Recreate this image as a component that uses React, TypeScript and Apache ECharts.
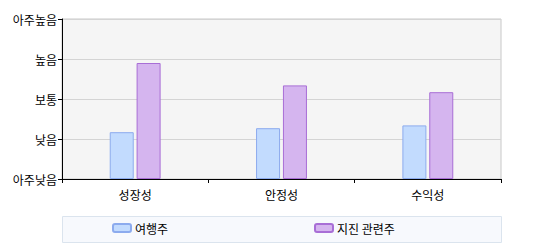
import React, { useEffect, useRef } from "react";
import * as echarts from "echarts";

const categories = ["성장성", "안정성", "수익성"];
const levelLabels = ["아주낮음", "낮음", "보통", "높음", "아주높음"];
const travelValues = [1.17, 1.27, 1.34];
const quakeValues = [2.9, 2.34, 2.17];
const seriesNames = ["여행주", "지진 관련주"];

const FONT = "'Noto Sans CJK KR', 'DejaVu Sans', sans-serif";

export default function App() {
  const ref = useRef<HTMLDivElement>(null);
  useEffect(() => {
    if (!ref.current) return;
    const chart = echarts.init(ref.current, null, { renderer: "svg" });
    chart.setOption({
      animation: false,
      textStyle: { fontFamily: FONT },
      grid: {
        left: 62,
        right: 43,
        top: 19,
        bottom: 71,
        show: true,
        backgroundColor: "#f5f5f5",
        borderColor: "#c8c8c8",
        borderWidth: 1,
      },
      graphic: [
        {
          type: "rect",
          left: 62,
          top: 216,
          shape: { width: 439, height: 26 },
          style: { fill: "#f7f9fd", stroke: "#dbe4ee", lineWidth: 1 },
          z: -1,
        },
      ],
      legend: [
        {
          left: 112,
          top: 222,
          padding: 0,
          itemWidth: 18,
          itemHeight: 8,
          itemGap: 4,
          data: [seriesNames[0]],
          textStyle: { fontSize: 12, color: "#000", fontFamily: FONT, padding: [0, 0, 0, -1] },
        },
        {
          left: 314,
          top: 222,
          padding: 0,
          itemWidth: 18,
          itemHeight: 8,
          itemGap: 4,
          data: [seriesNames[1]],
          textStyle: { fontSize: 12, color: "#000", fontFamily: FONT, padding: [0, 0, 0, -1] },
        },
      ],
      xAxis: {
        type: "category",
        data: categories,
        axisLine: { show: true, lineStyle: { color: "#000", width: 1 } },
        axisTick: { show: true, length: 4, lineStyle: { color: "#000" } },
        axisLabel: { color: "#000", fontSize: 12, margin: 9, fontFamily: FONT },
        splitLine: { show: false },
      },
      yAxis: {
        type: "value",
        min: 0,
        max: 4,
        interval: 1,
        axisLine: { show: true, lineStyle: { color: "#000", width: 1 } },
        axisTick: { show: true, length: 4, lineStyle: { color: "#000" } },
        axisLabel: {
          color: "#000",
          fontSize: 12,
          margin: 5,
          fontFamily: FONT,
          formatter: (v: number) => levelLabels[Math.round(v)] ?? "",
        },
        splitLine: { show: true, lineStyle: { color: "#d4d4d4", width: 1 } },
      },
      series: [
        {
          name: seriesNames[0],
          type: "bar",
          data: travelValues,
          barWidth: 24,
          barGap: "12%",
          itemStyle: { color: "#c2dbfe", borderColor: "#8cabee", borderWidth: 1 },
        },
        {
          name: seriesNames[1],
          type: "bar",
          data: quakeValues,
          barWidth: 24,
          barGap: "12%",
          itemStyle: { color: "#d5b5ef", borderColor: "#a86ed6", borderWidth: 1 },
        },
      ],
    });
    return () => chart.dispose();
  }, []);
  return <div ref={ref} style={{ width: 544, height: 250, position: "absolute", left: 0, top: 0 }} />;
}
